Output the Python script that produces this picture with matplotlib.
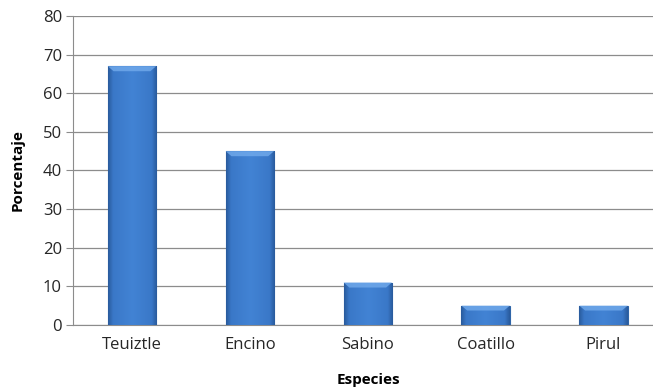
import numpy as np
import matplotlib.pyplot as plt
from matplotlib.colors import LinearSegmentedColormap

especies = ['Teuiztle', 'Encino', 'Sabino', 'Coatillo', 'Pirul']
porcentaje = [67, 45, 11, 5, 5]
y_ticks = [0, 10, 20, 30, 40, 50, 60, 70, 80]

plt.rcParams['font.family'] = ['Open Sans', 'DejaVu Sans']

fig = plt.figure(figsize=(6.53, 3.91), dpi=100)
ax = fig.add_axes([0.1118, 0.1688, 0.8882, 0.7903])

x = np.arange(len(especies))
bars = ax.bar(x, porcentaje, width=0.41, color='#3f7fd0', edgecolor='#2f65a8',
              linewidth=0.8, zorder=3)

# relieve: bordes oscuros estrechos y centro casi plano
cmap = LinearSegmentedColormap.from_list(
    'bev', [(0, '#2a5c9e'), (0.1, '#3a78c8'), (0.5, '#4283d4'), (0.9, '#3a78c8'), (1, '#2a5c9e')])
grad = np.linspace(0, 1, 64).reshape(1, -1)
for b in bars:
    x0, w, h = b.get_x(), b.get_width(), b.get_height()
    im = ax.imshow(grad, cmap=cmap, aspect='auto', extent=[x0, x0 + w, 0, h], zorder=3.5)
    im.set_clip_path(b)
    top = min(1.3, h * 0.25)
    ax.fill([x0, x0 + w, x0 + w * 0.88, x0 + w * 0.12], [h, h, h - top, h - top],
            color='#6fa8ea', alpha=0.85, zorder=4, linewidth=0)

ax.set_xlim(-0.5, 4.42)
ax.set_ylim(0, 80)
ax.set_yticks(y_ticks)
ax.set_xticks(x)
ax.set_xticklabels(especies)
ax.yaxis.grid(True, color='#8c8c8c', linewidth=0.9, zorder=0)
ax.set_axisbelow(True)

for s in ['top', 'right']:
    ax.spines[s].set_visible(False)
ax.spines['left'].set_color('#8c8c8c')
ax.spines['bottom'].set_color('#8c8c8c')
ax.tick_params(axis='y', length=5, color='#8c8c8c', labelsize=12, pad=3, labelcolor='#262626')
ax.tick_params(axis='x', length=0, labelsize=12, pad=9, labelcolor='#262626')

ax.set_xlabel('Especies', fontsize=11, fontweight='bold')
ax.set_ylabel('Porcentaje', fontsize=11, fontweight='bold')
ax.xaxis.set_label_coords(0.509, -0.155)
ax.yaxis.set_label_coords(-0.083, 0.5)

fig.savefig('out.png', dpi=100)
